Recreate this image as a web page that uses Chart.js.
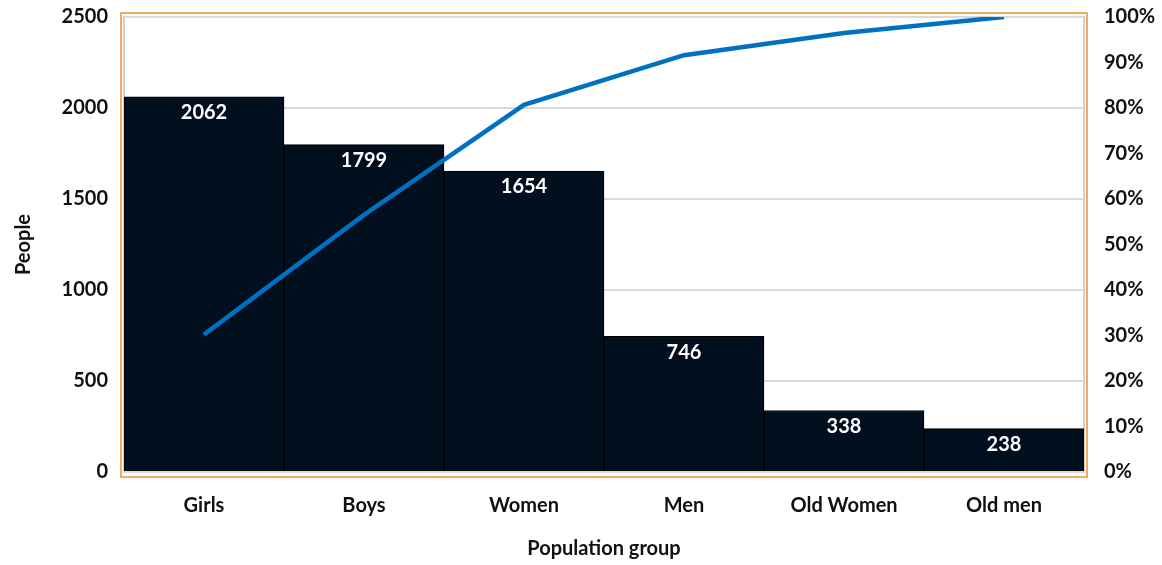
<!DOCTYPE html>
<html>
<head>
<meta charset="utf-8">
<script src="https://cdn.jsdelivr.net/npm/chart.js@4.4.1/dist/chart.umd.min.js"></script>
<style>
  html, body { margin: 0; padding: 0; background: #fff; }
  #wrap { width: 1162px; height: 565px; }
</style>
</head>
<body>
<div id="wrap"><canvas id="pareto"></canvas></div>
<script>
var groups = ["Girls", "Boys", "Women", "Men", "Old Women", "Old men"];
var people = [2062, 1799, 1654, 746, 338, 238];
var cumulativePct = [30.2, 56.5, 80.7, 91.6, 96.5, 100];
var peopleTicks = [0, 500, 1000, 1500, 2000, 2500];
var pctTicks = [0, 10, 20, 30, 40, 50, 60, 70, 80, 90, 100];

var FONT = "Lato, 'Open Sans', sans-serif";
var tickFont = { family: FONT, size: 20, weight: 'bold' };

// white value labels inside the top of each bar
var barLabels = {
    id: 'barLabels',
    afterDatasetsDraw: function (chart) {
        var ctx = chart.ctx;
        var meta = chart.getDatasetMeta(1);
        ctx.save();
        ctx.fillStyle = '#ffffff';
        ctx.font = 'bold 20px ' + FONT;
        ctx.textAlign = 'center';
        ctx.textBaseline = 'top';
        meta.data.forEach(function (bar, i) {
            ctx.fillText(people[i], bar.x, bar.y + 6);
        });
        ctx.restore();
    }
};

// plot area frame: orange outer, grey inner
var frame = {
    id: 'frame',
    beforeDraw: function (chart) {
        var a = chart.chartArea, ctx = chart.ctx;
        ctx.save();
        ctx.strokeStyle = '#f28e2b';
        ctx.lineWidth = 1.5;
        ctx.strokeRect(a.left - 3, a.top - 4, a.right - a.left + 6, a.bottom - a.top + 9);
        ctx.strokeStyle = '#d0d0d0';
        ctx.lineWidth = 2;
        ctx.strokeRect(a.left, a.top, a.right - a.left, a.bottom - a.top);
        ctx.restore();
    }
};

function noVPad(s) {
    s.paddingTop = 0;
    s.paddingBottom = 0;
}

new Chart(document.getElementById('pareto').getContext('2d'), {
    data: {
        labels: groups,
        datasets: [{
            type: 'line',
            data: cumulativePct,
            yAxisID: 'yPct',
            borderColor: '#0070c0',
            borderWidth: 4.5,
            pointRadius: 0,
            tension: 0,
            order: 0
        }, {
            type: 'bar',
            data: people,
            yAxisID: 'y',
            backgroundColor: '#020f1f',
            borderColor: '#000000',
            borderWidth: 1,
            barPercentage: 1,
            categoryPercentage: 1,
            order: 1
        }]
    },
    options: {
        responsive: true,
        maintainAspectRatio: false,
        animation: false,
        layout: { padding: { top: 17, right: 0, bottom: 0, left: 8 } },
        plugins: { legend: { display: false }, tooltip: { enabled: false } },
        scales: {
            x: {
                grid: { display: false },
                border: { display: false },
                afterFit: function (s) { s.height = 93; s.paddingLeft = 0; s.paddingRight = 0; },
                ticks: { color: '#111', font: tickFont, padding: 14 },
                title: { display: true, text: 'Population group', color: '#111',
                         font: tickFont, padding: { top: 17, bottom: 4 } }
            },
            y: {
                position: 'left',
                min: 0, max: 2500,
                afterBuildTicks: function (s) { s.ticks = peopleTicks.map(function (v) { return { value: v }; }); },
                afterFit: function (s) { s.width = 116; noVPad(s); },
                grid: { color: '#d9d9d9', lineWidth: 2, drawTicks: false },
                border: { display: false },
                ticks: { color: '#111', font: tickFont, padding: 16,
                         callback: function (v) { return String(v); } },
                title: { display: true, text: 'People', color: '#111',
                         font: tickFont, padding: { bottom: 14 } }
            },
            yPct: {
                position: 'right',
                min: 0, max: 100,
                afterBuildTicks: function (s) { s.ticks = pctTicks.map(function (v) { return { value: v }; }); },
                afterFit: function (s) { s.width = 78; noVPad(s); },
                grid: { display: false, drawTicks: false },
                border: { display: false },
                ticks: { color: '#111', font: tickFont, padding: 20,
                         callback: function (v) { return v + '%'; } }
            }
        }
    },
    plugins: [frame, barLabels]
});
</script>
</body>
</html>
